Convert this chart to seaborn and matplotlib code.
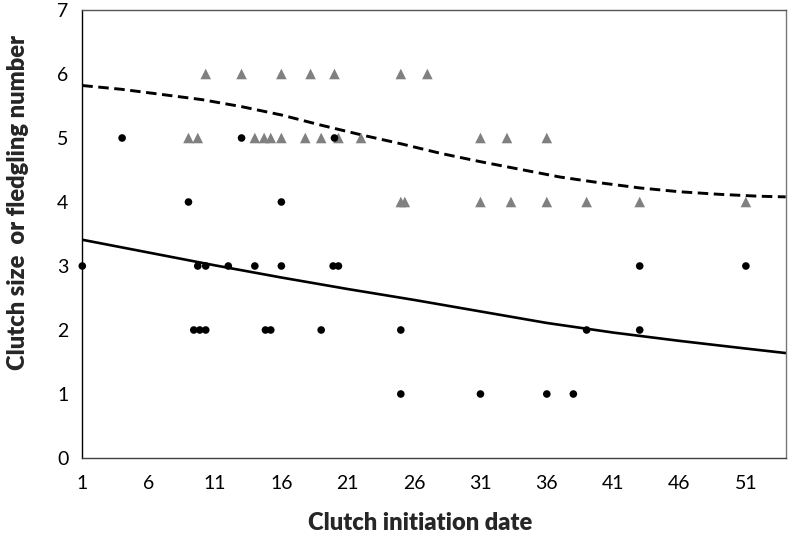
import matplotlib
matplotlib.use("Agg")
import matplotlib.pyplot as plt
import seaborn as sns
import pandas as pd

# ---- data ----
fledge_x = [4, 13, 20, 9, 16, 1, 9.7, 10.3, 12, 14, 16, 19.9, 20.3, 43, 51,
            9.4, 9.85, 10.3, 14.8, 15.2, 19, 25, 39, 43, 25, 31, 36, 38]
fledge_y = [5, 5, 5, 4, 4, 3, 3, 3, 3, 3, 3, 3, 3, 3, 3,
            2, 2, 2, 2, 2, 2, 2, 2, 2, 1, 1, 1, 1]

clutch_x = [10.3, 13, 16, 18.2, 20, 25, 27,
            9, 9.7, 14, 14.7, 15.2, 16, 17.8, 19, 20.3, 22, 31, 33, 36,
            25, 25.3, 31, 33.3, 36, 39, 43, 51]
clutch_y = [6] * 7 + [5] * 13 + [4] * 8

fit_fledge_x = [1, 6, 11, 16, 21, 26, 31, 36, 41, 46, 51, 54]
fit_fledge_y = [3.41, 3.21, 3.01, 2.82, 2.64, 2.47, 2.29, 2.11, 1.96, 1.83, 1.71, 1.64]

fit_clutch_x = [1, 4, 7, 10, 13, 16, 19, 22, 25, 28, 31, 34, 37, 40, 43, 46, 49, 52, 54]
fit_clutch_y = [5.82, 5.76, 5.68, 5.60, 5.49, 5.36, 5.20, 5.05, 4.91, 4.76, 4.63,
                4.51, 4.39, 4.30, 4.22, 4.16, 4.12, 4.09, 4.08]

x_ticks = [1, 6, 11, 16, 21, 26, 31, 36, 41, 46, 51]
y_ticks = [0, 1, 2, 3, 4, 5, 6, 7]

sns.set_style("white")
plt.rcParams['font.family'] = ['Lato', 'DejaVu Sans']

fig = plt.figure(figsize=(7.91, 5.37), dpi=100)
ax = fig.add_axes([82.3 / 791, 1 - 458 / 537, (785.7 - 82.3) / 791, 448 / 537])

df_c = pd.DataFrame({"x": clutch_x, "y": clutch_y})
df_f = pd.DataFrame({"x": fledge_x, "y": fledge_y})
df_fc = pd.DataFrame({"x": fit_clutch_x, "y": fit_clutch_y})
df_ff = pd.DataFrame({"x": fit_fledge_x, "y": fit_fledge_y})

sns.scatterplot(data=df_c, x="x", y="y", marker="^", s=58, color="#808080",
                edgecolor="none", ax=ax, zorder=3, clip_on=False)
sns.scatterplot(data=df_f, x="x", y="y", marker="o", s=30, color="black",
                edgecolor="none", ax=ax, zorder=4, clip_on=False)
sns.lineplot(data=df_fc, x="x", y="y", color="black", linewidth=2.1,
             linestyle=(0, (3.6, 1.9)), ax=ax, zorder=2)
sns.lineplot(data=df_ff, x="x", y="y", color="black", linewidth=1.9, ax=ax, zorder=2)

ax.set_xlim(1, 54)
ax.set_ylim(0, 7)
ax.set_xticks(x_ticks)
ax.set_xticklabels([str(t) for t in x_ticks])
ax.set_yticks(y_ticks)
ax.set_yticklabels([str(t) for t in y_ticks])
ax.tick_params(axis="both", direction="out", length=5, width=1, colors="#333333",
               labelsize=14, labelcolor="black")
ax.tick_params(axis="x", pad=7)
ax.tick_params(axis="y", pad=5)

ax.spines["left"].set_color("black")
ax.spines["bottom"].set_color("#404040")
ax.spines["top"].set_color("#555555")
ax.spines["right"].set_color("#777777")
for s in ax.spines.values():
    s.set_linewidth(1.0)

ax.set_xlabel("Clutch initiation date", fontsize=17, fontweight="heavy")
ax.set_ylabel("Clutch size  or fledgling number", fontsize=17, fontweight="heavy")
ax.xaxis.label.set_va("center")
ax.yaxis.label.set_va("center")
ax.xaxis.set_label_coords((420 - 82.3) / 703.4, (458 - 523) / 448)
ax.yaxis.set_label_coords((18 - 82.3) / 703.4, (458 - 202) / 448)

fig.savefig("out.png", dpi=100)
